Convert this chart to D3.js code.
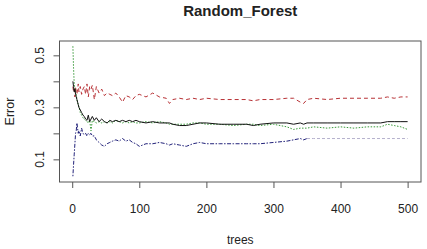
<!DOCTYPE html>
<html>
<head>
<meta charset="utf-8">
<script src="https://d3js.org/d3.v7.min.js"></script>
<style>
  body { margin: 0; background: #fff; }
  text { font-family: "Liberation Sans", Arial, sans-serif; fill: #222; }
</style>
</head>
<body>
<svg id="chart" width="427" height="249"></svg>
<script>
// number of trees at each sampled point
const trees = [1,2,3,4,5,6,7,8,9,10,12,14,16,18,20,22,24,26,28,30,33,36,40,44,48,52,56,60,65,70,75,80,85,90,95,100,110,120,130,140,145,150,160,170,180,190,200,220,240,260,270,280,300,320,330,340,345,350,360,380,400,420,440,460,470,480,490,500];

const oobErr = [0.40,0.38,0.36,0.37,0.35,0.34,0.33,0.32,0.31,0.30,0.29,0.28,0.27,0.265,0.255,0.25,0.27,0.245,0.255,0.265,0.25,0.26,0.245,0.255,0.245,0.24,0.25,0.245,0.25,0.245,0.25,0.245,0.25,0.245,0.25,0.245,0.24,0.245,0.24,0.24,0.24,0.235,0.23,0.23,0.235,0.24,0.24,0.235,0.235,0.235,0.23,0.235,0.24,0.24,0.235,0.24,0.235,0.24,0.24,0.24,0.24,0.24,0.24,0.24,0.245,0.245,0.245,0.245];

const class1Err = [0.38,0.36,0.37,0.34,0.38,0.36,0.35,0.37,0.39,0.36,0.38,0.35,0.37,0.38,0.35,0.39,0.34,0.38,0.37,0.385,0.33,0.38,0.355,0.37,0.345,0.355,0.35,0.345,0.355,0.34,0.32,0.345,0.34,0.33,0.345,0.35,0.34,0.355,0.34,0.335,0.315,0.33,0.335,0.33,0.335,0.33,0.335,0.33,0.33,0.33,0.325,0.33,0.33,0.335,0.335,0.32,0.315,0.33,0.335,0.33,0.335,0.335,0.335,0.335,0.34,0.335,0.34,0.34];

const class2Err = [0.535,0.45,0.39,0.37,0.36,0.35,0.33,0.32,0.31,0.30,0.28,0.27,0.26,0.255,0.25,0.245,0.24,0.25,0.21,0.25,0.245,0.24,0.245,0.24,0.245,0.24,0.245,0.24,0.25,0.245,0.24,0.245,0.24,0.245,0.24,0.24,0.245,0.24,0.245,0.24,0.235,0.235,0.235,0.235,0.24,0.24,0.235,0.235,0.23,0.235,0.235,0.23,0.235,0.225,0.215,0.22,0.22,0.22,0.225,0.22,0.225,0.22,0.225,0.225,0.235,0.23,0.225,0.215];

const class3Err = [0.035,0.08,0.12,0.16,0.20,0.21,0.24,0.22,0.20,0.21,0.19,0.22,0.20,0.195,0.20,0.19,0.20,0.195,0.20,0.19,0.19,0.175,0.165,0.155,0.15,0.16,0.165,0.17,0.175,0.17,0.18,0.17,0.175,0.165,0.16,0.15,0.16,0.16,0.165,0.16,0.155,0.16,0.155,0.15,0.16,0.165,0.16,0.16,0.16,0.16,0.16,0.16,0.165,0.17,0.175,0.18,0.175,0.18,0.18,0.18,0.18,0.18,0.18,0.18,0.18,0.18,0.18,0.18];

const xTicks = [0,100,200,300,400,500];
const yTicks = [0.1,0.2,0.3,0.4,0.5];
const yLabels = [0.1,0.3,0.5];

const svg = d3.select("#chart");
const pLeft = 59.5, pRight = 421, pTop = 41, pBottom = 182;

// R style 4% padding around the data range
const x = d3.scaleLinear().domain([1 - 19.96, 500 + 19.96]).range([pLeft, pRight]);
const y = d3.scaleLinear().domain([0.0129, 0.5551]).range([pBottom, pTop]);

svg.append("text")
  .attr("x", (pLeft + pRight) / 2).attr("y", 16)
  .attr("text-anchor", "middle")
  .attr("font-size", 15).attr("font-weight", "bold")
  .text("Random_Forest");

svg.append("rect")
  .attr("x", pLeft).attr("y", pTop)
  .attr("width", pRight - pLeft).attr("height", pBottom - pTop)
  .attr("fill", "none").attr("stroke", "#555").attr("stroke-width", 1);

// x axis
const xa = svg.append("g").attr("transform", "translate(0," + pBottom + ")")
  .call(d3.axisBottom(x).tickValues(xTicks).tickSize(6).tickPadding(16).tickFormat(d3.format("d")));
xa.select(".domain").remove();
xa.selectAll("line").attr("stroke", "#555");
xa.selectAll("text").attr("font-size", 12).attr("fill", "#333");

// y axis
const ya = svg.append("g").attr("transform", "translate(" + pLeft + ",0)")
  .call(d3.axisLeft(y).tickValues(yTicks).tickSize(6).tickFormat(""));
ya.select(".domain").remove();
ya.selectAll("line").attr("stroke", "#555");

yLabels.forEach(v => {
  svg.append("text")
    .attr("transform", "translate(" + 44 + "," + y(v) + ") rotate(-90)")
    .attr("text-anchor", "middle")
    .attr("font-size", 12).attr("fill", "#333")
    .text(v);
});

svg.append("text")
  .attr("x", (pLeft + pRight) / 2).attr("y", 244)
  .attr("text-anchor", "middle").attr("font-size", 12)
  .text("trees");

svg.append("text")
  .attr("transform", "translate(14," + ((pTop + pBottom) / 2) + ") rotate(-90)")
  .attr("text-anchor", "middle").attr("font-size", 12.5)
  .text("Error");

const line = d3.line().x(d => x(d[0])).y(d => y(d[1]));
const plot = svg.append("g");

function drawSeries(vals, color, dash, from, to) {
  const pts = trees.map((t, i) => [t, vals[i]]).filter(d => d[0] >= from && d[0] <= to);
  plot.append("path")
    .attr("d", line(pts))
    .attr("fill", "none")
    .attr("stroke", color)
    .attr("stroke-width", 1)
    .attr("stroke-dasharray", dash);
}

drawSeries(class3Err, "#22227a", "1.5,1.5,4,1.5", 1, 350);
drawSeries(class3Err, "#b4b0cc", "3,2", 350, 500);
drawSeries(class1Err, "#b83236", "4,3", 1, 500);
drawSeries(class2Err, "#3a9a3a", "1.5,1.5", 1, 500);
drawSeries(oobErr, "#111", null, 1, 500);
</script>
</body>
</html>
